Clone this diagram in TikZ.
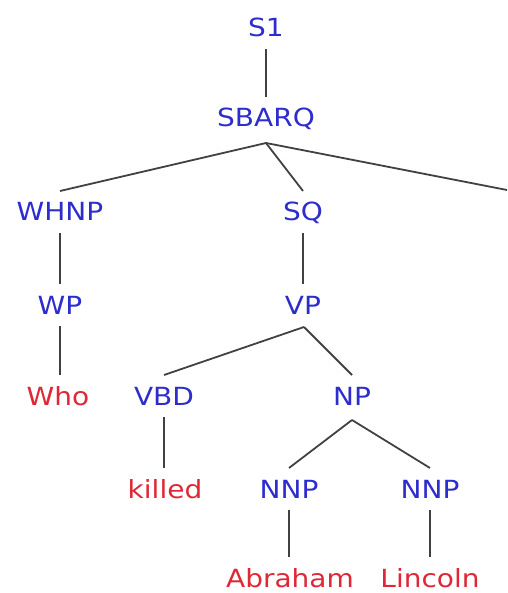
\documentclass[tikz,border=0pt]{standalone}
\usepackage{fontspec}
\newfontfamily\treefont[FakeStretch=1.12]{DejaVu Sans}
\definecolor{catblue}{RGB}{45,45,205}
\definecolor{wordred}{RGB}{222,40,55}
\definecolor{edgegray}{RGB}{65,65,65}
\begin{document}
\begin{tikzpicture}[x=1pt,y=-1pt,
  lbl/.style={inner sep=0pt, outer sep=12pt, text height=18pt, text depth=0pt,
    font=\treefont\fontsize{25}{25}\selectfont},
  cat/.style={lbl, text=catblue},
  word/.style={lbl, text=wordred},
  edge/.style={draw=edgegray, line width=1.8pt}]
\useasboundingbox (0,0) rectangle (507,593);

% categories
\node[cat] (s1)    at (266,28)  {S1};
\node[cat] (sbarq) at (266,118) {SBARQ};
\node[cat] (whnp)  at (60,212)  {WHNP};
\node[cat] (sq)    at (303,212) {SQ};
\node[cat] (wp)    at (60,305)  {WP};
\node[cat] (vp)    at (303,305) {VP};
\node[cat] (vbd)   at (164,396) {VBD};
\node[cat] (np)    at (352,396) {NP};
\node[cat] (nnpa)  at (289,489) {NNP};
\node[cat] (nnpb)  at (430,489) {NNP};

% words
\node[word] (who)     at (58,396)  {Who};
\node[word] (killed)  at (165,489) {killed};
\node[word] (abraham) at (290,578) {Abraham};
\node[word] (lincoln) at (430,578) {Lincoln};

% branch points and off-page end
\coordinate (sbarqfork) at (266,143);
\coordinate (vpfork)    at (304,327);
\coordinate (npfork)    at (352,420);
\coordinate (offright)  at (507,190);

% connectors
\draw[edge] (s1.south) -- (sbarq.north);
\draw[edge] (sbarqfork) -- (whnp.north);
\draw[edge] (sbarqfork) -- (sq.north);
\draw[edge] (sbarqfork) -- (offright);
\draw[edge] (whnp.south) -- (wp.north);
\draw[edge] (wp.south) -- (wp.south |- who.north);
\draw[edge] (sq.south) -- (vp.north);
\draw[edge] (vpfork) -- (vbd.north);
\draw[edge] (vpfork) -- (np.north);
\draw[edge] (vbd.south) -- (vbd.south |- killed.north);
\draw[edge] (npfork) -- (nnpa.north);
\draw[edge] (npfork) -- (nnpb.north);
\draw[edge] (nnpa.south) -- (nnpa.south |- abraham.north);
\draw[edge] (nnpb.south) -- (nnpb.south |- lincoln.north);
\end{tikzpicture}
\end{document}
